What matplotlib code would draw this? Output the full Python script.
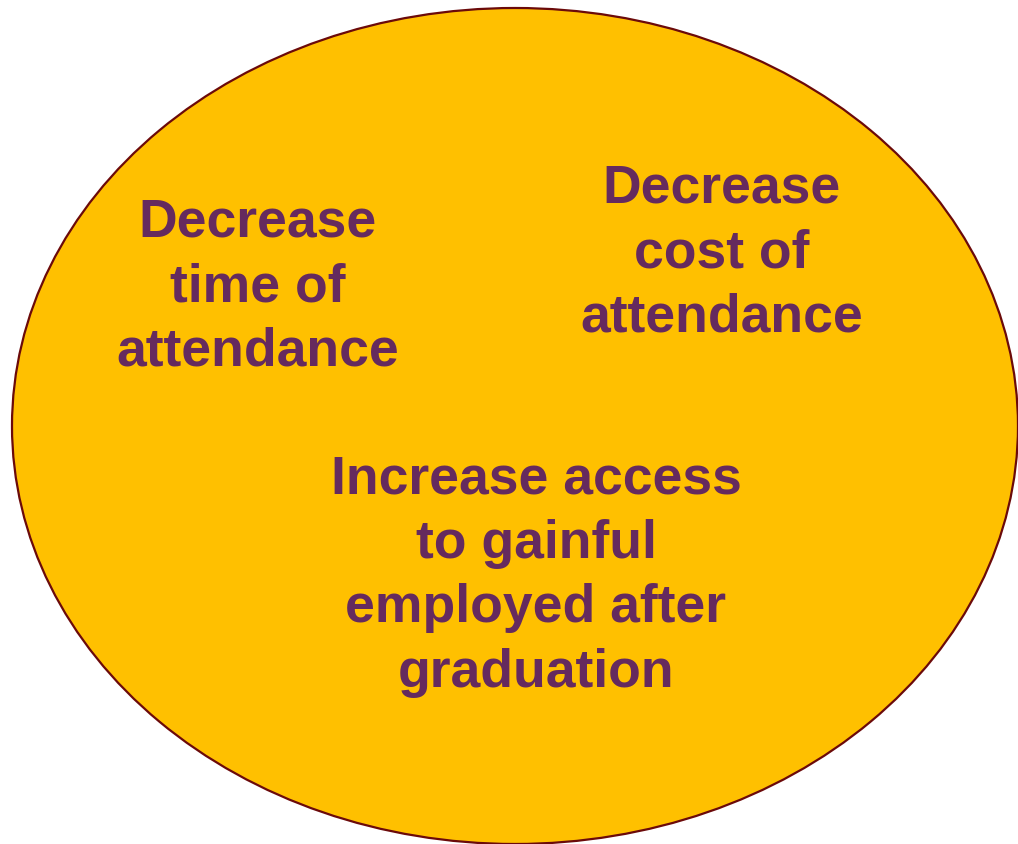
import matplotlib.pyplot as plt
from matplotlib.patches import Ellipse

# text blocks inside the ellipse
labels = [
    "Decrease\ntime of\nattendance",
    "Decrease\ncost of\nattendance",
    "Increase access\nto gainful\nemployed after\ngraduation",
]
label_x = [258, 722, 536]
label_y = [287, 253, 576]

fig = plt.figure(figsize=(10.18, 8.44), dpi=100)
ax = fig.add_axes([0, 0, 1, 1])
ax.set_xlim(0, 1018)
ax.set_ylim(844, 0)
ax.axis('off')

# Big yellow ellipse
ax.add_patch(Ellipse((515, 426), 1006, 836, facecolor='#FFC000',
                     edgecolor='#6B0A0A', linewidth=1.6))

for txt, x, y in zip(labels, label_x, label_y):
    ax.text(x, y, txt, ha='center', va='center', multialignment='center',
            fontsize=38.5, fontweight='bold', color='#652A5E',
            family=['Liberation Sans', 'DejaVu Sans'], linespacing=1.37)

fig.savefig('out.png', dpi=100)
